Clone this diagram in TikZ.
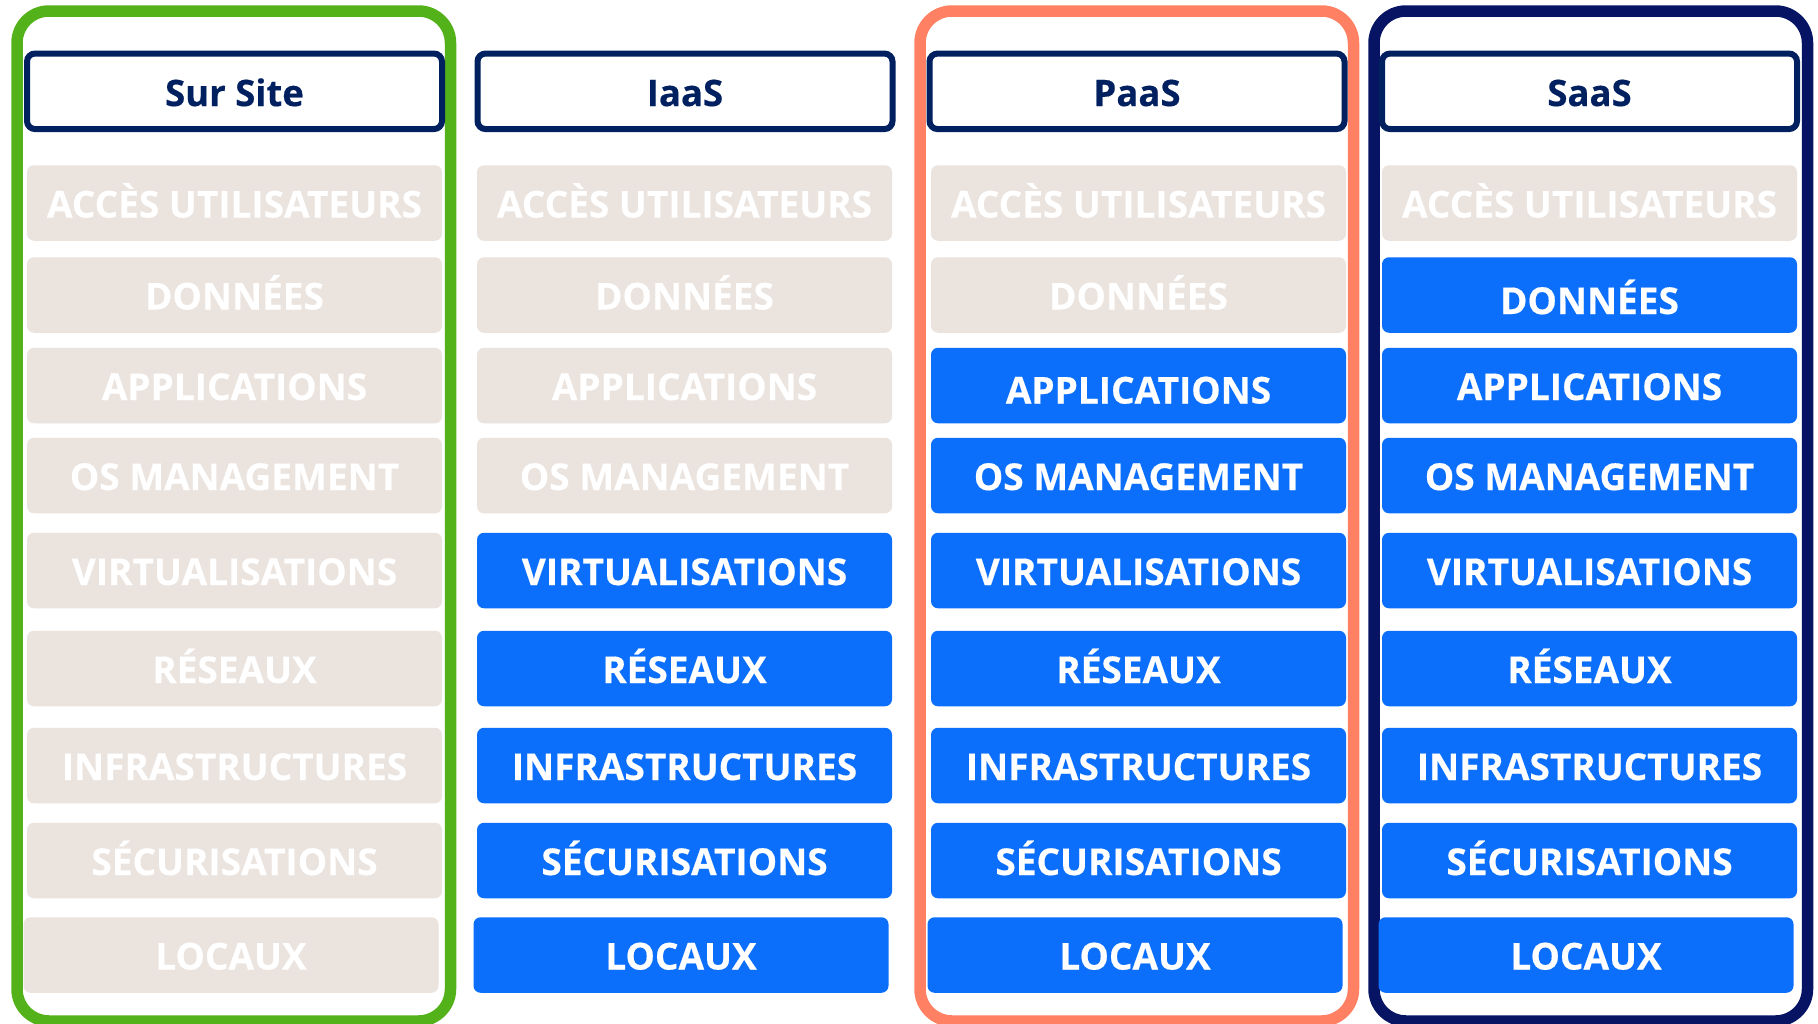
\documentclass[tikz,border=0pt]{standalone}
\usepackage{fontspec}
\setmainfont{Open Sans}[BoldFeatures={FakeBold=0.4}]
\definecolor{grayfill}{HTML}{EAE3DE}
\definecolor{bluefill}{HTML}{0B6FFB}
\definecolor{navy}{HTML}{002060}
\definecolor{darknavy}{HTML}{071464}
\definecolor{framegreen}{HTML}{53B119}
\definecolor{frameorange}{HTML}{FF8062}
\tikzset{
  cell/.style={rounded corners=7pt, minimum width=415pt, minimum height=75.5pt,
    inner sep=0pt, text=white, font=\fontsize{37}{42}\selectfont\bfseries,
    text height=29pt, text depth=0pt},
  headbox/.style={draw=navy, line width=6pt, rounded corners=8pt, fill=white,
    minimum width=415pt, minimum height=75.5pt, inner sep=0pt, text=navy,
    font=\fontsize{36.5}{42}\selectfont\bfseries, text height=29.5pt, text depth=0pt},
  colframe/.style={line width=11.5pt, rounded corners=32pt}
}
% #1 column index, #2 x centre, #3 first blue row, #4 extra text drop of that row
\newcommand\mkcol[4]{%
  \foreach \r/\y/\t/\dx in {1/203/ACCÈS UTILISATEURS/0, 2/295/DONNÉES/0,
      3/385.5/APPLICATIONS/0, 4/475.5/OS MANAGEMENT/0, 5/570.5/VIRTUALISATIONS/0,
      6/668.5/RÉSEAUX/0, 7/765.5/INFRASTRUCTURES/0, 8/860.5/SÉCURISATIONS/0,
      9/955/LOCAUX/-3.5}{%
    \ifnum\r<#3\relax\def\fc{grayfill}\else\def\fc{bluefill}\fi
    \ifnum\r=#3\relax\def\th{#4}\else\def\th{0}\fi
    \node[cell, fill=\fc, text height=29pt+\th pt] (c#1r\r) at (#2+\dx,\y) {\t};
  }}
\begin{document}
\begin{tikzpicture}[x=1pt,y=-1pt]
\useasboundingbox (0,0) rectangle (1818,1023);
\fill[white] (0,0) rectangle (1818,1023);
% frames
\draw[colframe, draw=framegreen] (17,11) rectangle (450.5,1021);
\draw[colframe, draw=frameorange] (920,11) rectangle (1353.5,1021);
\draw[colframe, draw=darknavy] (1374,11) rectangle (1807.5,1021);
% headers
\node[headbox] (h1) at (234.5,91.3) {Sur Site};
\node[headbox] (h2) at (685,91.3) {IaaS};
\node[headbox] (h3) at (1137,91.3) {PaaS};
\node[headbox] (h4) at (1589.5,91.3) {SaaS};
% cells
\mkcol{1}{234.5}{10}{0}
\mkcol{2}{684.5}{5}{0}
\mkcol{3}{1138.5}{3}{7}
\mkcol{4}{1589.5}{2}{9}
\end{tikzpicture}
\end{document}
